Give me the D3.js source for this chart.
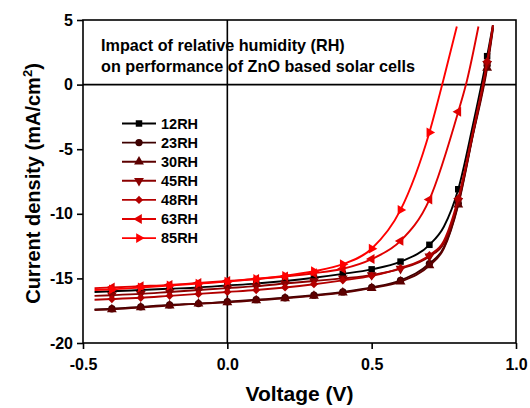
<!DOCTYPE html>
<html>
<head>
<meta charset="utf-8">
<script src="https://cdn.jsdelivr.net/npm/d3@7"></script>
<style>
  body { margin: 0; background: #fff; }
  text { font-family: "Liberation Sans", Arial, sans-serif; font-weight: bold; }
</style>
</head>
<body>
<svg id="chart" width="530" height="408"></svg>
<script>
// J-V data: [voltage (V), current density (mA/cm2)]
const rh12 = [[-0.46,-16.05],[-0.4,-16.0],[-0.3,-15.9],[-0.2,-15.8],[-0.1,-15.7],[0,-15.55],[0.1,-15.4],[0.2,-15.2],[0.3,-14.95],[0.4,-14.65],[0.5,-14.3],[0.6,-13.7],[0.7,-12.4],[0.75,-11.0],[0.8,-8.1],[0.85,-3.2],[0.9,2.2],[0.92,4.6]]
const rh23 = [[-0.46,-17.4],[-0.4,-17.35],[-0.3,-17.2],[-0.2,-17.05],[-0.1,-16.95],[0,-16.8],[0.1,-16.65],[0.2,-16.5],[0.3,-16.3],[0.4,-16.05],[0.5,-15.7],[0.6,-15.15],[0.7,-13.85],[0.75,-12.6],[0.8,-9.2],[0.85,-3.9],[0.9,1.5],[0.92,4.4]]
const rh30 = [[-0.46,-17.45],[-0.4,-17.4],[-0.3,-17.25],[-0.2,-17.1],[-0.1,-16.95],[0,-16.85],[0.1,-16.7],[0.2,-16.55],[0.3,-16.35],[0.4,-16.1],[0.5,-15.75],[0.6,-15.25],[0.7,-14.0],[0.75,-12.7],[0.8,-9.3],[0.85,-4.0],[0.9,1.3],[0.92,4.3]]
const rh45 = [[-0.46,-16.35],[-0.4,-16.3],[-0.3,-16.2],[-0.2,-16.05],[-0.1,-15.9],[0,-15.75],[0.1,-15.6],[0.2,-15.4],[0.3,-15.2],[0.4,-15.0],[0.5,-14.75],[0.6,-14.25],[0.7,-13.3],[0.75,-12.3],[0.8,-9.0],[0.85,-3.9],[0.9,1.6],[0.92,4.5]]
const rh48 = [[-0.46,-16.65],[-0.4,-16.6],[-0.3,-16.5],[-0.2,-16.35],[-0.1,-16.2],[0,-16.05],[0.1,-15.9],[0.2,-15.7],[0.3,-15.45],[0.4,-15.15],[0.5,-14.8],[0.6,-14.2],[0.7,-13.2],[0.75,-12.1],[0.8,-8.8],[0.85,-3.7],[0.9,1.8],[0.92,4.6]]
const rh63 = [[-0.46,-15.75],[-0.4,-15.7],[-0.3,-15.6],[-0.2,-15.5],[-0.1,-15.35],[0,-15.2],[0.1,-15.05],[0.2,-14.85],[0.3,-14.6],[0.4,-14.25],[0.5,-13.5],[0.6,-12.1],[0.7,-8.9],[0.8,-2.1],[0.83,0.3],[0.87,4.5]]
const rh85 = [[-0.46,-15.9],[-0.4,-15.85],[-0.3,-15.7],[-0.2,-15.55],[-0.1,-15.4],[0,-15.25],[0.1,-15.05],[0.2,-14.8],[0.3,-14.45],[0.4,-13.9],[0.5,-12.7],[0.6,-9.7],[0.7,-3.7],[0.75,0.5],[0.795,4.5]]

const seriesNames = ['12RH', '23RH', '30RH', '45RH', '48RH', '63RH', '85RH']
const seriesData = [rh12, rh23, rh30, rh45, rh48, rh63, rh85]
const seriesColors = ['#000000', '#3d0000', '#5c0000', '#8a0000', '#b30000', '#e00000', '#ff0000']
const markerKinds = ['square', 'circle', 'up', 'down', 'diamond', 'left', 'right']

const xTicks = [-0.5, 0.0, 0.5, 1.0]
const xTickLabels = ['-0.5', '0.0', '0.5', '1.0']
const yTicks = [-20, -15, -10, -5, 0, 5]
const yTickLabels = ['-20', '-15', '-10', '-5', '0', '5']
const titleLines = ['Impact of relative humidity (RH)', 'on performance of ZnO based solar cells']

const svg = d3.select('#chart')
const plot = {left: 83, right: 516, top: 20, bottom: 343}

const x = d3.scaleLinear().domain([-0.5, 1.0]).range([plot.left, plot.right])
const y = d3.scaleLinear().domain([-20, 5]).range([plot.bottom, plot.top])

svg.append('clipPath').attr('id', 'clip')
  .append('rect')
  .attr('x', plot.left).attr('y', plot.top)
  .attr('width', plot.right - plot.left).attr('height', plot.bottom - plot.top)

// zero lines
svg.append('line')
  .attr('x1', x(0)).attr('x2', x(0))
  .attr('y1', plot.top).attr('y2', plot.bottom)
  .attr('stroke', '#000').attr('stroke-width', 1.6)
svg.append('line')
  .attr('x1', plot.left).attr('x2', plot.right)
  .attr('y1', y(0)).attr('y2', y(0))
  .attr('stroke', '#000').attr('stroke-width', 1.6)

// marker path generator
function markerPath(kind, size) {
  if (kind === 'square') return d3.symbol(d3.symbolSquare, size)()
  if (kind === 'circle') return d3.symbol(d3.symbolCircle, size)()
  if (kind === 'diamond') return d3.symbol(d3.symbolSquare, size * 0.8)()
  return d3.symbol(d3.symbolTriangle, size)()
}
const markerRot = {square: 0, circle: 0, diamond: 45, up: 0, down: 180, left: -90, right: 90}

const line = d3.line()
  .x(d => x(d[0]))
  .y(d => y(d[1]))
  .curve(d3.curveMonotoneX)

const curves = svg.append('g').attr('clip-path', 'url(#clip)')

seriesData.forEach((pts, i) => {
  curves.append('path')
    .datum(pts)
    .attr('d', line)
    .attr('fill', 'none')
    .attr('stroke', seriesColors[i])
    .attr('stroke-width', 1.9)

  const marks = pts.filter(d => d[0] > -0.45 && Math.abs(d[0] * 10 - Math.round(d[0] * 10)) < 1e-6)
  curves.selectAll('.m' + i)
    .data(marks)
    .enter()
    .append('path')
    .attr('class', 'm' + i)
    .attr('d', markerPath(markerKinds[i], 42))
    .attr('transform', d => 'translate(' + x(d[0]) + ',' + y(d[1]) + ') rotate(' + markerRot[markerKinds[i]] + ')')
    .attr('fill', seriesColors[i])
})

// frame
svg.append('rect')
  .attr('x', plot.left).attr('y', plot.top)
  .attr('width', plot.right - plot.left).attr('height', plot.bottom - plot.top)
  .attr('fill', 'none').attr('stroke', '#000').attr('stroke-width', 1.6)

// axes
const xAxis = d3.axisBottom(x).tickValues(xTicks).tickFormat((d, i) => xTickLabels[i]).tickSize(6).tickSizeOuter(0)
const yAxis = d3.axisLeft(y).tickValues(yTicks).tickFormat((d, i) => yTickLabels[i]).tickSize(6).tickSizeOuter(0)

const gx = svg.append('g').attr('transform', 'translate(0,' + plot.bottom + ')').call(xAxis)
gx.select('.domain').remove()
gx.selectAll('line').attr('stroke-width', 1.6)
gx.selectAll('text').attr('font-size', 16).attr('dy', '1.1em').attr('fill', '#000')
  .style('font-family', '"Liberation Sans", Arial, sans-serif').style('font-weight', 'bold')

const gy = svg.append('g').attr('transform', 'translate(' + plot.left + ',0)').call(yAxis)
gy.select('.domain').remove()
gy.selectAll('line').attr('stroke-width', 1.6)
gy.selectAll('text').attr('font-size', 16).attr('x', -10).attr('fill', '#000')
  .style('font-family', '"Liberation Sans", Arial, sans-serif').style('font-weight', 'bold')

// axis titles
svg.append('text')
  .attr('x', (plot.left + plot.right) / 2)
  .attr('y', 401)
  .attr('text-anchor', 'middle')
  .attr('font-size', 21)
  .text('Voltage (V)')

const yTitle = svg.append('text')
  .attr('transform', 'translate(40,' + ((plot.top + plot.bottom) / 2 + 2) + ') rotate(-90)')
  .attr('text-anchor', 'middle')
  .attr('font-size', 20)
yTitle.append('tspan').text('Current density (mA/cm')
yTitle.append('tspan').attr('dy', -8).attr('font-size', 13).text('2')
yTitle.append('tspan').attr('dy', 8).text(')')

// inset title
svg.selectAll('.title')
  .data(titleLines)
  .enter()
  .append('text')
  .attr('class', 'title')
  .attr('x', 101)
  .attr('y', (d, i) => 51 + i * 21)
  .attr('font-size', 16.2)
  .text(d => d)

// legend
const legend = svg.append('g')
seriesNames.forEach((name, i) => {
  const ly = 123.5 + i * 19.1
  legend.append('line')
    .attr('x1', 122).attr('x2', 156)
    .attr('y1', ly).attr('y2', ly)
    .attr('stroke', seriesColors[i]).attr('stroke-width', 1.9)
  legend.append('path')
    .attr('d', markerPath(markerKinds[i], 42))
    .attr('transform', 'translate(139,' + ly + ') rotate(' + markerRot[markerKinds[i]] + ')')
    .attr('fill', seriesColors[i])
  legend.append('text')
    .attr('x', 161)
    .attr('y', ly + 5)
    .attr('font-size', 14.5)
    .text(name)
})
</script>
</body>
</html>
